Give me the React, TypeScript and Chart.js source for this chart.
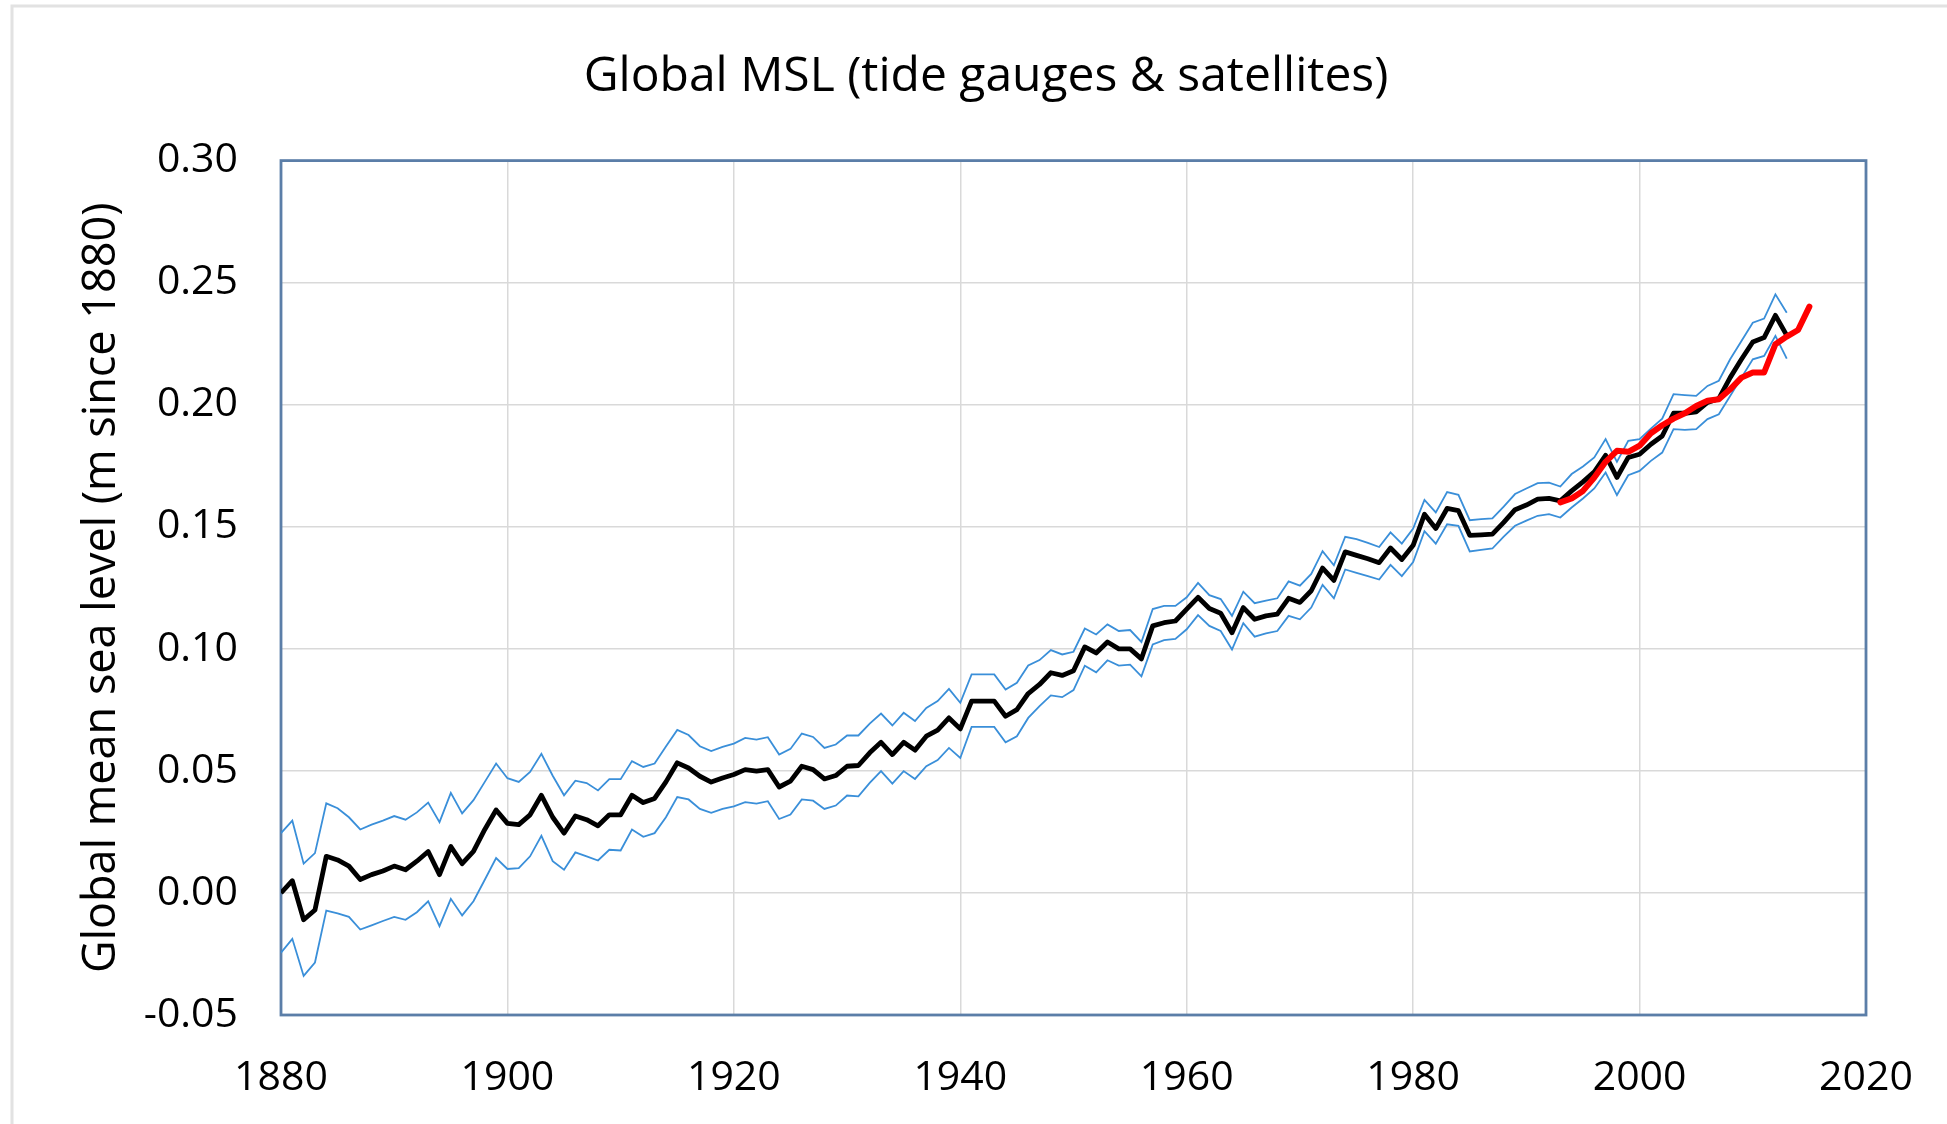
import React, { useEffect, useRef } from "react";
import { Chart, registerables } from "chart.js";

Chart.register(...registerables);

// ---- data ----
const gaugeStartYear = 1880;
const satelliteStartYear = 1993;

// Tide-gauge global mean sea level (m since 1880), annual 1880–2013
const gaugeMSL = [
  0.000, 0.005, -0.011, -0.007, 0.015, 0.0135, 0.011, 0.0055, 0.0075, 0.009,
  0.011, 0.0095, 0.013, 0.017, 0.0075, 0.019, 0.012, 0.017, 0.026, 0.034,
  0.0285, 0.028, 0.032, 0.040, 0.031, 0.0245, 0.0315, 0.030, 0.0275, 0.032,
  0.032, 0.040, 0.037, 0.0387, 0.0455, 0.0533, 0.0512, 0.0478, 0.0454, 0.0471,
  0.0485, 0.0505, 0.0499, 0.0505, 0.0434, 0.0458, 0.0519, 0.0505, 0.0467, 0.0481,
  0.0519, 0.0522, 0.0574, 0.0617, 0.0567, 0.0617, 0.0585, 0.0642, 0.0667, 0.0717,
  0.0672, 0.0786, 0.0786, 0.0786, 0.0724, 0.0751, 0.0817, 0.0854, 0.0902, 0.0891,
  0.0910, 0.1008, 0.0983, 0.1028, 0.1000, 0.1000, 0.0959, 0.1094, 0.1107, 0.1114,
  0.1163, 0.1211, 0.1165, 0.1146, 0.1066, 0.1169, 0.1121, 0.1135, 0.1142, 0.1207,
  0.1190, 0.1238, 0.1331, 0.1280, 0.1397, 0.1383, 0.1369, 0.1353, 0.1413, 0.1366,
  0.1424, 0.1551, 0.1493, 0.1575, 0.1566, 0.1465, 0.1467, 0.1470, 0.1518, 0.1570,
  0.1589, 0.1613, 0.1616, 0.1606, 0.1647, 0.1684, 0.1725, 0.1793, 0.1702, 0.1784,
  0.1797, 0.1838, 0.1872, 0.1965, 0.1965, 0.1971, 0.2009, 0.2025, 0.2111, 0.2186,
  0.2257, 0.2275, 0.2366, 0.2284,
];

// Upper uncertainty bound, 1880–2013
const gaugeUpper = [
  0.0245, 0.0296, 0.012, 0.0163, 0.0367, 0.0347, 0.031, 0.026, 0.028, 0.0296,
  0.0315, 0.030, 0.033, 0.037, 0.029, 0.041, 0.0326, 0.038, 0.0455, 0.053,
  0.047, 0.0455, 0.0496, 0.057, 0.048, 0.040, 0.046, 0.045, 0.042, 0.0466,
  0.0466, 0.054, 0.0516, 0.053, 0.060, 0.0668, 0.0647, 0.0601, 0.0581, 0.0598,
  0.0612, 0.0635, 0.0628, 0.0638, 0.0567, 0.059, 0.0653, 0.0639, 0.0594, 0.0608,
  0.0645, 0.0645, 0.0694, 0.0735, 0.0686, 0.0738, 0.0704, 0.0758, 0.0786, 0.0836,
  0.0779, 0.0895, 0.0895, 0.0895, 0.0833, 0.0861, 0.0932, 0.0954, 0.0995, 0.0977,
  0.0988, 0.1083, 0.1059, 0.110, 0.1073, 0.1077, 0.1028, 0.1163, 0.1176, 0.1176,
  0.1211, 0.127, 0.122, 0.1204, 0.1135, 0.1234, 0.1187, 0.1197, 0.1207, 0.1276,
  0.1259, 0.1307, 0.140, 0.1342, 0.1459, 0.1449, 0.1434, 0.1417, 0.1477, 0.1431,
  0.1493, 0.161, 0.1559, 0.1642, 0.1631, 0.1527, 0.1531, 0.1534, 0.1583, 0.1634,
  0.1657, 0.1679, 0.1681, 0.1665, 0.1716, 0.1747, 0.1784, 0.1859, 0.1766, 0.1852,
  0.1859, 0.1902, 0.1943, 0.2043, 0.2039, 0.2036, 0.2077, 0.2098, 0.2186, 0.2261,
  0.2336, 0.2353, 0.2452, 0.2377,
];

// Lower uncertainty bound, 1880–2013
const gaugeLower = [
  -0.0245, -0.0188, -0.034, -0.0285, -0.0072, -0.0084, -0.0098, -0.015, -0.0133, -0.0115,
  -0.0098, -0.011, -0.0079, -0.0034, -0.0136, -0.0024, -0.0092, -0.0034, 0.0054, 0.0143,
  0.0098, 0.0102, 0.015, 0.0234, 0.013, 0.0095, 0.0166, 0.015, 0.0133, 0.0177,
  0.0174, 0.026, 0.023, 0.0245, 0.031, 0.0393, 0.0383, 0.0344, 0.0328, 0.0344,
  0.0355, 0.0372, 0.0366, 0.0376, 0.0303, 0.0321, 0.0383, 0.0378, 0.0344, 0.0358,
  0.0399, 0.0396, 0.0451, 0.0499, 0.0448, 0.0499, 0.0467, 0.0519, 0.0544, 0.0594,
  0.0553, 0.068, 0.068, 0.068, 0.0617, 0.0642, 0.0717, 0.0765, 0.0809, 0.0802,
  0.0831, 0.0931, 0.0904, 0.0953, 0.0931, 0.0935, 0.0887, 0.1018, 0.1036, 0.1041,
  0.108, 0.1138, 0.1094, 0.1073, 0.0997, 0.1105, 0.105, 0.1063, 0.1073, 0.1135,
  0.1121, 0.1169, 0.1262, 0.1207, 0.1325, 0.1311, 0.1298, 0.1284, 0.1344, 0.1298,
  0.1355, 0.1482, 0.1431, 0.151, 0.1504, 0.1399, 0.1405, 0.1411, 0.146, 0.1504,
  0.1525, 0.1545, 0.1552, 0.1538, 0.1579, 0.1616, 0.1657, 0.1722, 0.163, 0.1711,
  0.1729, 0.177, 0.1804, 0.19, 0.1897, 0.19, 0.1941, 0.1961, 0.2036, 0.2111,
  0.2186, 0.22, 0.2282, 0.2189,
];

// Satellite altimetry, 1993–2015
const satelliteMSL = [
  0.160, 0.1616, 0.1647, 0.1702, 0.1766, 0.1811, 0.1807, 0.1832, 0.1883, 0.1916,
  0.1943, 0.1965, 0.1995, 0.2016, 0.2022, 0.2063, 0.2111, 0.2132, 0.2132, 0.2248,
  0.2279, 0.2306, 0.2402,
];

const xTickMin = 1880;
const xTickMax = 2020;
const xTickStep = 20;
const yTickMin = -0.05;
const yTickMax = 0.3;
const yTickStep = 0.05;

const chartTitle = "Global MSL (tide gauges & satellites)";
const yAxisTitle = "Global mean sea level (m since 1880)";

const toPoints = (start: number, values: number[]) =>
  values.map((v, i) => ({ x: start + i, y: v }));

const FONT = "'Open Sans', 'DejaVu Sans', sans-serif";

const framePlugin = {
  id: "frameLines",
  beforeDraw(chart: any) {
    const ctx = chart.ctx;
    ctx.save();
    ctx.fillStyle = "#ffffff";
    ctx.fillRect(0, 0, chart.width, chart.height);
    ctx.strokeStyle = "#e2e2e2";
    ctx.lineWidth = 3;
    ctx.beginPath();
    ctx.moveTo(12, chart.height);
    ctx.lineTo(12, 6);
    ctx.lineTo(chart.width, 6);
    ctx.stroke();
    ctx.restore();
  },
};

const plotBorderPlugin = {
  id: "plotBorder",
  beforeDatasetsDraw(chart: any) {
    const { ctx, chartArea } = chart;
    ctx.save();
    ctx.strokeStyle = "#5b7ea8";
    ctx.lineWidth = 2.8;
    ctx.strokeRect(
      chartArea.left,
      chartArea.top,
      chartArea.right - chartArea.left,
      chartArea.bottom - chartArea.top
    );
    ctx.restore();
  },
};

const formatY = (v: any) => {
  const n = Number(v);
  return (Math.abs(n) < 1e-9 ? 0 : n).toFixed(2);
};

export default function App() {
  const canvasRef = useRef<HTMLCanvasElement | null>(null);

  useEffect(() => {
    if (!canvasRef.current) return;
    const chart = new Chart(canvasRef.current, {
      type: "line",
      data: {
        datasets: [
          {
            label: "Satellites",
            data: toPoints(satelliteStartYear, satelliteMSL),
            borderColor: "#ff0000",
            borderWidth: 6,
            pointRadius: 0,
            borderJoinStyle: "round",
            borderCapStyle: "round",
          },
          {
            label: "Tide gauges",
            data: toPoints(gaugeStartYear, gaugeMSL),
            borderColor: "#000000",
            borderWidth: 4.8,
            pointRadius: 0,
            borderJoinStyle: "round",
          },
          {
            label: "Upper",
            data: toPoints(gaugeStartYear, gaugeUpper),
            borderColor: "#3a8fd9",
            borderWidth: 1.8,
            pointRadius: 0,
          },
          {
            label: "Lower",
            data: toPoints(gaugeStartYear, gaugeLower),
            borderColor: "#3a8fd9",
            borderWidth: 1.8,
            pointRadius: 0,
          },
        ],
      },
      options: {
        animation: false,
        responsive: false,
        devicePixelRatio: 1,
        layout: { padding: { left: 25, right: 0, top: 0, bottom: 0 } },
        plugins: {
          legend: { display: false },
          tooltip: { enabled: false },
          title: {
            display: true,
            text: chartTitle,
            color: "#000000",
            font: { family: FONT, size: 48, weight: "normal" },
            padding: { top: 49, bottom: 54 },
          },
        },
        scales: {
          x: {
            type: "linear",
            min: xTickMin,
            max: xTickMax,
            ticks: {
              stepSize: xTickStep,
              color: "#000000",
              font: { family: FONT, size: 41 },
              padding: 39,
              maxRotation: 0,
              callback: (v: any) => String(v),
            },
            grid: { color: "#d9d9d9", lineWidth: 1.5, drawTicks: false },
            border: { display: false },
            afterFit: (scale: any) => {
              scale.height = 109;
              scale.paddingLeft = 0;
              scale.paddingRight = 0;
            },
          },
          y: {
            type: "linear",
            min: yTickMin,
            max: yTickMax,
            ticks: {
              stepSize: yTickStep,
              color: "#000000",
              font: { family: FONT, size: 41 },
              padding: 43,
              callback: formatY,
            },
            grid: { color: "#d9d9d9", lineWidth: 1.5, drawTicks: false },
            border: { display: false },
            title: {
              display: true,
              text: yAxisTitle,
              color: "#000000",
              font: { family: FONT, size: 45, weight: "normal" },
              padding: { top: 50, bottom: 0 },
            },
            afterFit: (scale: any) => {
              scale.width = 256;
            },
          },
          yRight: {
            type: "linear",
            position: "right",
            display: true,
            ticks: { display: false },
            grid: { display: false },
            border: { display: false },
            afterFit: (scale: any) => {
              scale.width = 81;
            },
          },
        },
      },
      plugins: [framePlugin, plotBorderPlugin],
    } as any);
    return () => chart.destroy();
  }, []);

  return (
    <div
      style={{
        position: "absolute",
        left: 0,
        top: 0,
        width: 1947,
        height: 1124,
        background: "#ffffff",
      }}
    >
      <canvas
        ref={canvasRef}
        width={1947}
        height={1124}
        style={{ display: "block", width: 1947, height: 1124 }}
      />
    </div>
  );
}
